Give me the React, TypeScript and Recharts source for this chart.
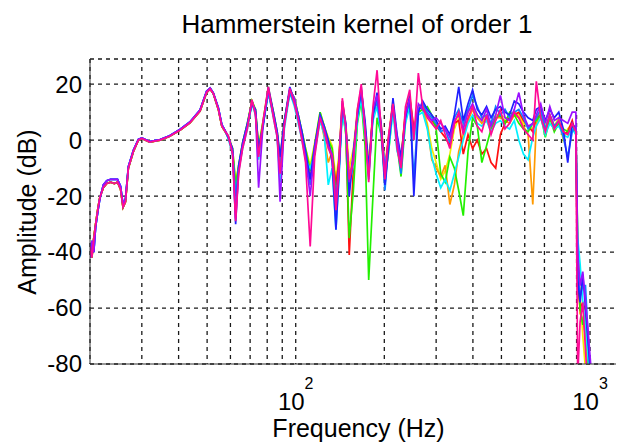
import React from 'react';
import { LineChart, Line, XAxis, YAxis, CartesianGrid } from 'recharts';

const FONT = '"Liberation Sans", Arial, Helvetica, sans-serif';

// shared low band (all realisations overlap below ~58 Hz)
const lowFreqs = [20, 20.3, 20.6, 20.9, 21.3, 21.6, 22.2, 22.8, 23.5, 24.2, 24.8, 25.4, 25.9, 26.4, 27, 28.1, 29.2, 30, 31.9, 34.6, 37.3, 40.4, 43.7, 47.3, 49.8, 51.2, 52.5, 54.6, 56.1, 57.5];
const lowA = [-38, -42, -35, -30, -24, -20.5, -17, -15.5, -15, -15.5, -15, -17.5, -24, -22, -10, -4, 0, 0.6, -0.7, 0, 1.4, 3.5, 6.2, 10.4, 17, 18.3, 16.6, 11, 5, 3.2];
const lowB = [-42, -36, -40, -31, -25, -21, -16, -14.5, -14, -14, -14, -16.5, -23, -21, -9.5, -3.5, 0.3, 0.8, -0.5, 0.2, 1.6, 3.8, 6.5, 10.8, 17.5, 18.6, 16.8, 11.5, 5.5, 3.5];

const highFreqs = [
  59, 61, 62.5, 64, 66, 68.5, 71, 73, 74.8, 77.5,
  80.7, 84, 86.5, 88.5, 91.5, 95.5, 99, 102, 105, 108,
  112, 116, 121, 125, 129, 133, 137, 140, 144, 148,
  152, 157, 162, 167, 172, 177, 183, 189, 195, 201,
  207, 214, 221, 228, 236, 244, 252, 261, 270, 280,
  290, 300, 311, 322, 334, 346, 358, 371, 385, 399,
  414, 429, 445, 461, 478, 496, 514, 533, 553, 573,
  594, 616, 639, 657, 680, 705, 730, 756, 783, 811,
  840, 870, 895, 908, 925, 945, 965, 985, 1005, 1030,
  1060,
];

const yellowHigh = [
  1.5, -3, -15, -9, -1, 6, 14, 11, -2, 7,
  19, 10, 3, -6, 7, 18, 15, 9, 3, -3,
  -9, -1, 10, 5, 1, -2, -14, -6, 14, 6,
  -10, -3, 11, 18, 6, -8, 11, 15, 6, -9,
  2, 14, 1, -6, 10, 16, 4, 12, 12, 6,
  -3, -8, -14, -11, -5, 4, 8, 5, 10, 12,
  9, 7, 9, 5, 9, 9, 8, 8, 10, 9,
  6, 5, 4, 8, 10, 5, 9, 5, 8, 0,
  4, 6, 4, -36, -55, -70, -82, -90, -95, -98,
  -100,
];
const orangeHigh = [
  1, -4, -17, -10, -2, 5, 13, 10, -4, 6,
  17, 9, 2, -8, 6, 17, 13, 7, 1, -6,
  -13, -3, 8, 1, -8, -4, -17, -9, 12, 4,
  -13, -6, 9, 16, 4, -12, 9, 14, 4, -12,
  0, 12, -1, -8, 9, 14, 2, 10, 11, 5,
  -7, -10, -13, -9, -23, -16, -4, 2, 7, 11,
  8, 6, 8, 4, 8, 8, 7, 6, 9, 8,
  5, 2, -23, 6, 9, 3, 8, 4, 6, 3,
  2, 5, 3, -42, -62, -64, -70, -82, -90, -96,
  -100,
];
const redHigh = [
  1, -4, -19, -10, -2, 5, 14, 10, -5, 6,
  18, 9, 2, -9, 6, 18, 14, 8, 2, -5,
  -15, -4, 8, 4, -1, -5, -16, -8, 13, 4,
  -41, -10, 8, 17, 4, -11, 10, 14, 5, -10,
  1, 13, 0, -7, 10, 15, 4, 11, 12, 9,
  7, 5, 3, 1, -2, 6, 7, -5, 2, -3,
  0, -5, -3, -8, -10, 2, 6, 8, 9, 10,
  7, 5, 3, 8, 9, 3, 9, 5, 6, 2,
  3, 7, 2, -50, -60, -58, -61, -75, -86, -94,
  -100,
];
const greenHigh = [
  1, -3, -16, -9, -1, 6, 14, 11, -3, 7,
  18, 10, 3, -7, 7, 18, 15, 9, 3, -3,
  -11, -2, 10, 5, 0, -3, -20, -12, 11, 2,
  -35, -18, 6, 14, -2, -50, -20, 8, 2, -14,
  -4, 12, -2, -13, 7, 13, 1, 10, 11, 12,
  9, 4, -12, -15, -6, -10, -18, -27, -4, 8,
  5, -8, -2, 4, 8, 9, 6, 10, 9, 6,
  4, 3, 6, 7, 9, 1, 8, 3, 6, 4,
  3, 5, 3, -38, -60, -66, -62, -80, -88, -95,
  -100,
];
const cyanHigh = [
  0.5, -5, -22, -11, -3, 4, 13, 9, -7, 5,
  17, 8, 1, -15, 4, 17, 12, 6, 0, -7,
  -10, -5, 7, 2, -16, -10, -32, -15, 10, 3,
  -16, -9, 7, 15, 2, -10, 7, 12, 2, -8,
  -3, 10, -4, -8, 6, 12, 0, 9, 10, 4,
  -6, -12, -17, -14, -18, -12, -6, 0, 6, 9,
  6, 5, 7, 3, 6, 7, 5, 4, 7, 0,
  -5, -7, 1, 5, 8, 2, 6, 4, 5, 2,
  1, 4, 2, -35, -44, -58, -66, -78, -88, -95,
  -100,
];
const azureHigh = [
  1, -4, -20, -10, -2, 5, 13, 10, -5, 6,
  17, 9, 2, -9, 6, 17, 13, 8, 2, -5,
  -16, -4, 9, 3, -2, -6, -28, -12, 12, 5,
  -18, -6, 9, 17, 5, -14, 9, 14, 4, -18,
  -1, 12, -1, -12, 9, 14, -14, 11, 13, 10,
  8, 6, 3, 4, -1, 8, 11, 6, 11, 16,
  12, 8, 9, 6, 12, 9, 11, 8, 10, 11,
  8, 4, 6, 8, 11, 4, 9, 5, 7, 1,
  -6, 3, 5, -45, -56, -52, -52, -70, -86, -94,
  -100,
];
const blueHigh = [
  1, -3, -30, -9, -1, 6, 13, 11, -3, 5,
  19, 10, 3, -6, 7, 19, 14, 9, 3, -4,
  -14, -2, 9, 5, 0, -8, -32, -14, 13, 6,
  -20, -4, 9, 18, 7, -10, 9, 17, 6, -16,
  -2, 15, 2, -6, 8, 16, -20, 10, 14, 11,
  9, 7, 4, 5, 2, 9, 19, 7, 13, 18,
  11, 9, 12, 8, 11, 12, 10, 9, 14, 13,
  10, 8, 7, 11, 12, 7, 11, 8, 10, 4,
  -8, 6, 4, -50, -58, -48, -60, -72, -84, -92,
  -98,
];
const violetHigh = [
  1.5, -4, -28, -11, -2, 5, 14, 10, -17, 6,
  18, 9, 2, -22, 6, 18, 15, 8, 1, -6,
  -20, -3, 8, 4, -2, -5, -22, -9, 14, 5,
  -15, -6, 10, 19, 4, -13, 11, 16, 5, -11,
  1, 13, 1, -9, 9, 15, 2, 13, 11, 9,
  7, 8, 6, 4, 1, 7, 9, 4, 10, 13,
  9, 7, 11, 5, 9, 16, 8, 7, 11, 17,
  9, 5, 6, 9, 13, 6, 12, 7, 8, 7,
  6, 10, 10, -40, -52, -47, -58, -68, -80, -90,
  -96,
];
const magentaHigh = [
  1.5, -5, -29, -12, -3, 4, 14.5, 9, -6, 7,
  19, 8, 1, -12, 5, 18.5, 13, 7, 0, -8,
  -38, -6, 8, 3, -3, -6, -25, -12, 15, 4,
  -14, -8, 11, 20, 3, -15, 12, 25, 4, -14,
  2, 13, -3, -10, 12, 18, 0, 24, 12, 8,
  6, 4, 7, 2, -3, 6, 10, 2, 8, 12,
  5, 3, 9, 2, 7, 11, 4, 6, 10, 8,
  4, 2, 0, 21, 8, 3, 9, 4, 7, 3,
  2, 6, 3, -85, -65, -58, -75, -90, -95, -100,
  -100,
];

const series = [
  { key: 'yellow', color: '#f2ee00', low: lowA, high: yellowHigh },
  { key: 'orange', color: '#ff9a00', low: lowA, high: orangeHigh },
  { key: 'red', color: '#ff1010', low: lowA, high: redHigh },
  { key: 'green', color: '#22f000', low: lowA, high: greenHigh },
  { key: 'cyan', color: '#00f0ff', low: lowB, high: cyanHigh },
  { key: 'azure', color: '#1080ff', low: lowB, high: azureHigh },
  { key: 'blue', color: '#2020ff', low: lowB, high: blueHigh },
  { key: 'violet', color: '#9a10ff', low: lowB, high: violetHigh },
  { key: 'magenta', color: '#ff0a96', low: lowA, high: magentaHigh },
];

const freqs = [...lowFreqs, ...highFreqs];
const data = freqs.map((f, i) => {
  const row: Record<string, number> = { f };
  series.forEach((s) => {
    row[s.key] = i < lowFreqs.length ? s.low[i] : s.high[i - lowFreqs.length];
  });
  return row;
});

const gridFreqs = [30, 40, 50, 60, 70, 80, 90, 100, 200, 300, 400, 500, 600, 700, 800, 900, 1000];
const decadeExp: Record<number, string> = { 100: '2', 1000: '3' };
const yTicks = [-80, -60, -40, -20, 0, 20];

const XTick = (props: any) => {
  const { x, y, payload } = props;
  const exp = decadeExp[payload.value];
  if (!exp) return <g />;
  return (
    <text x={x} y={y + 38} textAnchor="middle" fontSize={24} fontFamily={FONT} fill="#000">
      <tspan>10</tspan>
      <tspan dy={-21} fontSize={16}>{exp}</tspan>
    </text>
  );
};

const YTick = (props: any) => {
  const { x, y, payload } = props;
  return (
    <text x={x} y={y} dy="0.35em" textAnchor="end" fontSize={24} fontFamily={FONT} fill="#000">
      {payload.value}
    </text>
  );
};

export default function App() {
  return (
    <div style={{ position: 'relative', width: 616, height: 435, overflow: 'hidden', background: '#fff' }}>
      <LineChart width={618} height={435} data={data} margin={{ top: 51, right: 0, bottom: 0, left: 0 }}>
        <CartesianGrid stroke="#1a1a1a" strokeWidth={1.3} strokeDasharray="4 4" />
        <XAxis
          dataKey="f"
          type="number"
          scale="log"
          domain={[20, 1325]}
          allowDataOverflow
          ticks={gridFreqs}
          interval={0}
          tick={<XTick />}
          tickLine={false}
          axisLine={{ stroke: '#333' }}
          height={79}
        />
        <XAxis
          xAxisId="top"
          orientation="top"
          dataKey="f"
          type="number"
          scale="log"
          domain={[20, 1325]}
          allowDataOverflow
          tick={false}
          tickLine={false}
          axisLine={{ stroke: '#333' }}
          height={0}
        />
        <YAxis
          type="number"
          domain={[-80, 29]}
          allowDataOverflow
          ticks={yTicks}
          interval={0}
          tick={<YTick />}
          tickLine={false}
          axisLine={{ stroke: '#333' }}
          width={82}
        />
        {series.map((s) => (
          <Line
            key={s.key}
            type="linear"
            dataKey={s.key}
            stroke={s.color}
            strokeWidth={1.7}
            dot={false}
            isAnimationActive={false}
          />
        ))}
      </LineChart>
      <svg width={616} height={435} style={{ position: 'absolute', left: 0, top: 0, pointerEvents: 'none' }}>
        <text x={349} y={25} textAnchor="middle" fontSize={26} fontFamily={FONT} fill="#000">
          Hammerstein kernel of order 1
        </text>
        <text x={350.5} y={429} textAnchor="middle" fontSize={25} fontFamily={FONT} fill="#000">
          Frequency (Hz)
        </text>
        <text x={28} y={204} transform="rotate(-90 28 204)" textAnchor="middle" fontSize={25} fontFamily={FONT} fill="#000">
          Amplitude (dB)
        </text>
      </svg>
    </div>
  );
}
